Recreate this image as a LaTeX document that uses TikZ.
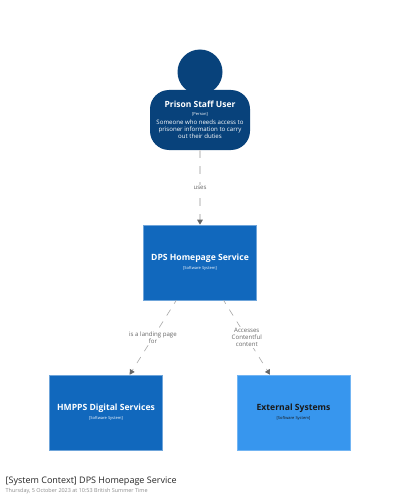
\documentclass[tikz,border=0pt]{standalone}
\usepackage{fontspec}
\setmainfont{Open Sans}
\usetikzlibrary{arrows.meta}
\definecolor{personc}{HTML}{08427B}
\definecolor{sysc}{HTML}{1168BD}
\definecolor{extc}{HTML}{3796EE}
\definecolor{sysedge}{HTML}{6FA5DA}
\definecolor{linec}{HTML}{A8A8A8}
\tikzset{
  x=1pt,y=1pt,
  sysbox/.style={minimum width=113pt,minimum height=75pt,inner sep=0pt,align=center,draw=sysedge,line width=.6pt,fill=sysc,text=white,font=\fontsize{4}{9}\selectfont},
  extbox/.style={sysbox,fill=extc,draw=extc!70!white,text=black!90},
  personbox/.style={rectangle,rounded corners=19pt,fill=personc,minimum width=100pt,minimum height=60pt,inner sep=0pt,text=white,align=center,font=\fontsize{6.1}{7}\selectfont},
  rel/.style={draw=linec,line width=.6pt,dash pattern=on 7pt off 7pt,dash phase=3pt,-{Triangle[length=5pt,width=5.5pt,color=black!60]}},
  rellabel/.style={fill=white,inner sep=1pt,align=center,text=black!60,font=\fontsize{6.1}{7}\selectfont},
}
\newcommand{\nameline}[1]{{\bfseries\fontsize{8.6}{11}\selectfont #1}}
\newcommand{\tagline}[1]{{\fontsize{4}{5}\selectfont #1}}
\begin{document}
\begin{tikzpicture}
\useasboundingbox (0,0) rectangle (400,-500);
\fill[white] (0,0) rectangle (400,-500);
\node[circle,fill=personc,minimum size=45pt,inner sep=0pt] (head) at (200,-72) {};
\node[personbox] (person) at (200,-120) {%
  {\bfseries\fontsize{8.5}{10}\selectfont Prison Staff User}\\[1.5pt]
  \tagline{[Person]}\\[2pt]
  Someone who needs access to\\
  prisoner information to carry\\
  out their duties};
\node[sysbox] (dps) at (200,-262.5) {\nameline{DPS Homepage Service}\\\tagline{[Software System]}};
\node[sysbox] (hmpps) at (106,-412.5) {\nameline{HMPPS Digital Services}\\\tagline{[Software System]}};
\node[extbox] (ext) at (293.5,-412.5) {\nameline{External Systems}\\\tagline{[Software System]}};
\draw[rel,draw=black!15,line width=1.6pt,dash pattern=on 8pt off 8pt,dash phase=0pt] (person) -- (dps) node[pos=.5,rellabel] (l1) {uses};
\draw[rel] (dps) -- (hmpps) node[pos=.5,rellabel] (l2) {is a landing page\\for};
\draw[rel] (dps) -- (ext) node[pos=.5,rellabel] (l3) {Accesses\\Contentful\\content};
\node[anchor=west,inner sep=0pt,text=black!85,font=\fontsize{9}{11}\selectfont] (cap) at (5.5,-481.5) {[System Context] DPS Homepage Service};
\node[anchor=west,inner sep=0pt,text=black!45,font=\fontsize{5.45}{6.5}\selectfont] (date) at (5.5,-491) {Thursday, 5 October 2023 at 10:53 British Summer Time};
\end{tikzpicture}
\end{document}
